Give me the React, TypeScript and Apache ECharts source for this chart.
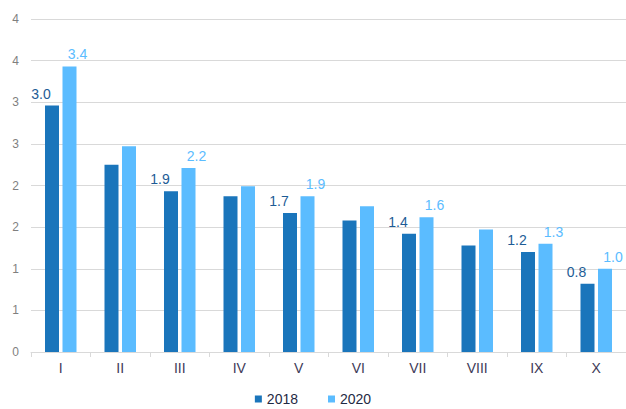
import React, { useEffect, useRef } from "react";
import * as echarts from "echarts";

const categories = ["I", "II", "III", "IV", "V", "VI", "VII", "VIII", "IX", "X"];
const series2018 = [2.96, 2.25, 1.93, 1.87, 1.67, 1.58, 1.42, 1.28, 1.2, 0.82];
const series2020 = [3.43, 2.47, 2.21, 1.99, 1.87, 1.75, 1.62, 1.47, 1.3, 1.0];
const labeledIndices = [0, 2, 4, 6, 8, 9];
const seriesNames = ["2018", "2020"];

const FONT = "'Liberation Sans', Arial, sans-serif";

export default function App() {
  const ref = useRef<HTMLDivElement>(null);
  useEffect(() => {
    if (!ref.current) return;
    const chart = echarts.init(ref.current, null, { renderer: "svg" });
    const mkData = (vals: number[]) =>
      vals.map((v, i) => ({ value: v, label: { show: labeledIndices.includes(i) } }));
    chart.setOption({
      animation: false,
      backgroundColor: "#ffffff",
      textStyle: { fontFamily: FONT },
      grid: { left: 31, right: -5, top: 19, bottom: 57 },
      legend: {
        data: seriesNames,
        top: 392,
        padding: 0,
        left: "center",
        icon: "rect",
        itemWidth: 7,
        itemHeight: 7,
        itemGap: 30,
        textStyle: { color: "#1f2a44", fontSize: 14, lineHeight: 14, fontFamily: FONT },
      },
      xAxis: {
        type: "category",
        data: categories,
        axisLine: { lineStyle: { color: "#d9d9d9", width: 1 } },
        axisTick: { show: true, length: 5, lineStyle: { color: "#d9d9d9" } },
        axisLabel: { color: "#3e3a58", fontSize: 14, margin: 9, fontFamily: FONT },
      },
      yAxis: {
        type: "value",
        min: 0,
        max: 4,
        interval: 0.5,
        axisLine: { show: false },
        axisTick: { show: false },
        splitLine: { lineStyle: { color: "#d9d9d9", width: 1 } },
        axisLabel: {
          color: "#7f7f7f",
          fontSize: 12,
          margin: 12,
          fontFamily: FONT,
          formatter: (v: number) => String(Math.round(v)),
        },
      },
      series: [
        {
          name: seriesNames[0],
          type: "bar",
          data: mkData(series2018),
          barWidth: 14,
          barGap: "25%",
          itemStyle: { color: "#1a75bb" },
          label: {
            position: "top",
            distance: 5,
            offset: [-11, 0],
            color: "#1d5c96",
            fontSize: 14,
            fontFamily: FONT,
            formatter: (p: any) => Number(p.value).toFixed(1),
          },
        },
        {
          name: seriesNames[1],
          type: "bar",
          data: mkData(series2020),
          barWidth: 14,
          itemStyle: { color: "#5bbcff" },
          label: {
            position: "top",
            distance: 5,
            offset: [8, 0],
            color: "#5bbcff",
            fontSize: 14,
            fontFamily: FONT,
            formatter: (p: any) => Number(p.value).toFixed(1),
          },
        },
      ],
    });
    return () => chart.dispose();
  }, []);
  return (
    <div
      ref={ref}
      style={{ position: "fixed", left: 0, top: 0, width: 626, height: 409, background: "#fff" }}
    />
  );
}
